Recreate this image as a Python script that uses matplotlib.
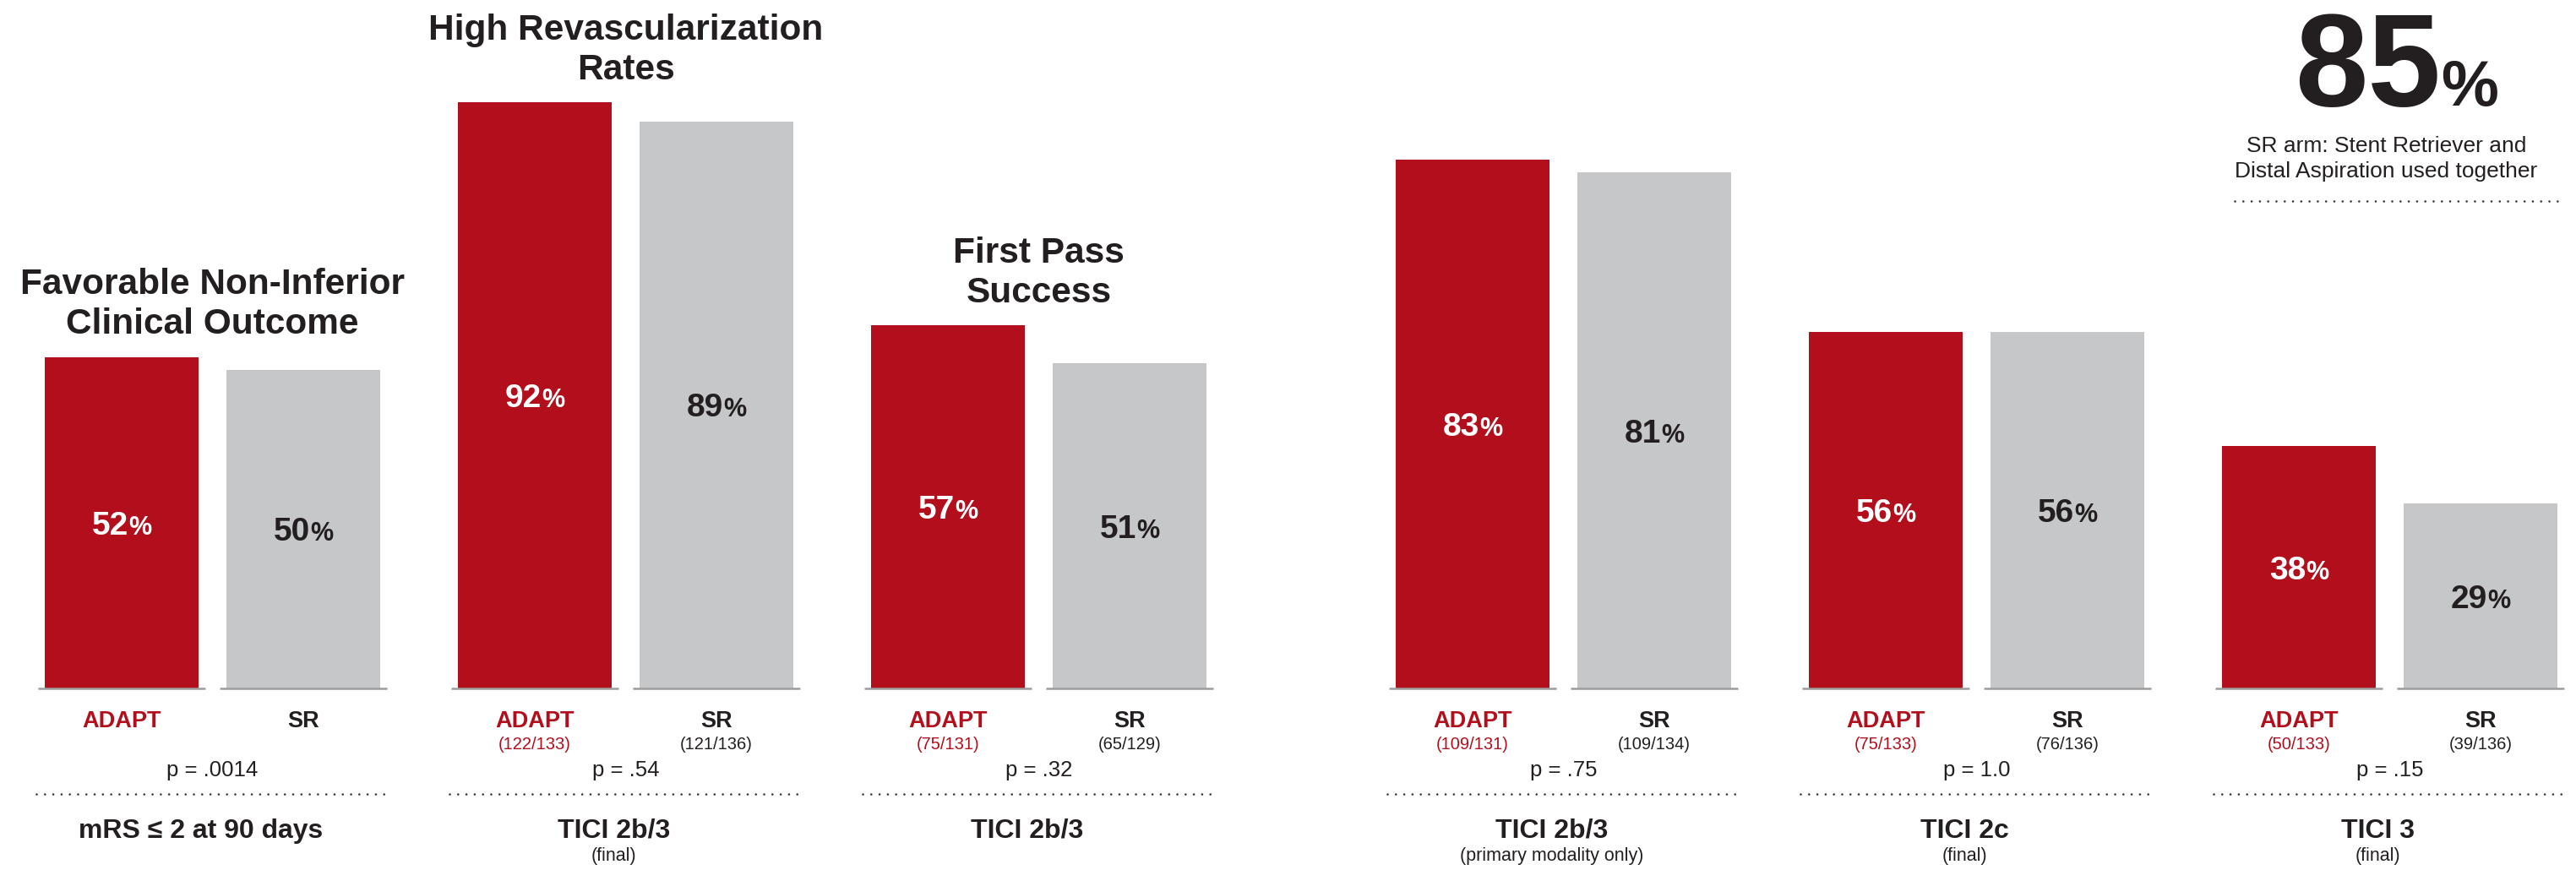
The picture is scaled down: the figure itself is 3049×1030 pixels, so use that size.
import numpy as np
import matplotlib
matplotlib.use('Agg')
import matplotlib.pyplot as plt

plt.rcParams['font.family'] = ['Liberation Sans', 'DejaVu Sans']

# data
titles = ["Favorable Non-Inferior\nClinical Outcome", "High Revascularization\nRates",
          "First Pass\nSuccess", "", "", ""]
adapt = [52, 92, 57, 83, 56, 38]
sr = [50, 89, 51, 81, 56, 29]
adapt_n = ["", "(122/133)", "(75/131)", "(109/131)", "(75/133)", "(50/133)"]
sr_n = ["", "(121/136)", "(65/129)", "(109/134)", "(76/136)", "(39/136)"]
p_vals = ["p = .0014", "p = .54", "p = .32", "p = .75", "p = 1.0", "p = .15"]
outcomes = ["mRS \u2264 2 at 90 days", "TICI 2b/3", "TICI 2b/3", "TICI 2b/3", "TICI 2c", "TICI 3"]
notes = ["", "(final)", "", "(primary modality only)", "(final)", "(final)"]
sr_combined = 85
sr_combined_text = ["SR arm: Stent Retriever and", "Distal Aspiration used together"]

RED = '#B20E1C'
GRAY = '#C6C7C9'
DARK = '#231F20'
LINE = '#9D9D9D'

W, H = 3049, 1030
PX = 7.54    # pixels per percentage point
BASE = 815   # baseline in pixels from top

fig = plt.figure(figsize=(W / 100, H / 100), dpi=100)
ax = fig.add_axes([0, 0, 1, 1])
ax.set_xlim(0, W)
ax.set_ylim(-(H - BASE) / PX, BASE / PX)
ax.axis('off')


def yd(ypix):
    # pixel row -> data y
    return (BASE - ypix) / PX


bar_w = 182
inner = 33
pitch = 489
n = len(adapt)
idx = np.arange(n)
starts = 53 + pitch * idx + 132 * (idx >= 3)
adapt_x = starts + bar_w / 2
sr_x = starts + bar_w + inner + bar_w / 2
centers = starts + bar_w + inner / 2

ax.bar(adapt_x, adapt, width=bar_w, color=RED, zorder=2)
ax.bar(sr_x, sr, width=bar_w, color=GRAY, zorder=2)

renderer = fig.canvas.get_renderer()


def split_label(xc, y, big, small, color, fs_big, fs_small):
    t1 = ax.text(xc, y, big, fontsize=fs_big, fontweight='bold', color=color,
                 ha='left', va='baseline', zorder=4)
    t2 = ax.text(xc, y, small, fontsize=fs_small, fontweight='bold', color=color,
                 ha='left', va='baseline', zorder=4)
    w1 = t1.get_window_extent(renderer).width
    w2 = t2.get_window_extent(renderer).width
    x0 = xc - (w1 + w2) / 2
    t1.set_x(x0)
    t2.set_x(x0 + w1)


for i in range(n):
    # baselines under each bar
    for x in (adapt_x[i], sr_x[i]):
        ax.plot([x - bar_w / 2 - 8, x + bar_w / 2 + 8], [0, 0], color=LINE, lw=1.8,
                solid_capstyle='butt', zorder=3)

    split_label(adapt_x[i], adapt[i] / 2 - 14 / PX, str(adapt[i]), '%', 'white', 28, 22)
    split_label(sr_x[i], sr[i] / 2 - 14 / PX, str(sr[i]), '%', DARK, 28, 22)

    if titles[i]:
        top = max(adapt[i], sr[i])
        for k, line in enumerate(reversed(titles[i].split('\n'))):
            ax.text(centers[i], top + (27.5 + 47 * k) / PX, line, ha='center', va='baseline',
                    fontsize=30.5, fontweight='bold', color=DARK)

    ax.text(adapt_x[i], yd(861), 'ADAPT', color=RED, fontsize=19.5, fontweight='bold',
            ha='center', va='baseline')
    ax.text(sr_x[i], yd(861), 'SR', color=DARK, fontsize=19.5, fontweight='bold',
            ha='center', va='baseline')
    if adapt_n[i]:
        ax.text(adapt_x[i], yd(887), adapt_n[i], color=RED, fontsize=14.5, ha='center', va='baseline')
        ax.text(sr_x[i], yd(887), sr_n[i], color=DARK, fontsize=14.5, ha='center', va='baseline')

    ax.text(centers[i], yd(919), p_vals[i], color=DARK, fontsize=18.5, ha='center', va='baseline')
    ax.plot([starts[i] - 10, starts[i] + 2 * bar_w + inner + 10], [yd(940)] * 2, color='#333333',
            lw=1.9, ls=(0, (0.01, 3.7)), dash_capstyle='round')
    ax.text(centers[i] - 14, yd(992), outcomes[i], color=DARK, fontsize=23, fontweight='bold',
            ha='center', va='baseline')
    if notes[i]:
        ax.text(centers[i] - 14, yd(1019), notes[i], color=DARK, fontsize=15.5, ha='center',
                va='baseline')

# 85% call-out
cx = centers[-1]
split_label(cx + 8, yd(125), str(sr_combined), '%', DARK, 112, 55)
for k, line in enumerate(sr_combined_text):
    ax.text(cx - 4, yd(180 + 30 * k), line, color=DARK, fontsize=19, ha='center', va='baseline')
ax.plot([cx - 184, cx + 206], [yd(238)] * 2, color='#333333', lw=1.9, ls=(0, (0.01, 3.7)),
        dash_capstyle='round')

fig.savefig('out.png', dpi=100)
